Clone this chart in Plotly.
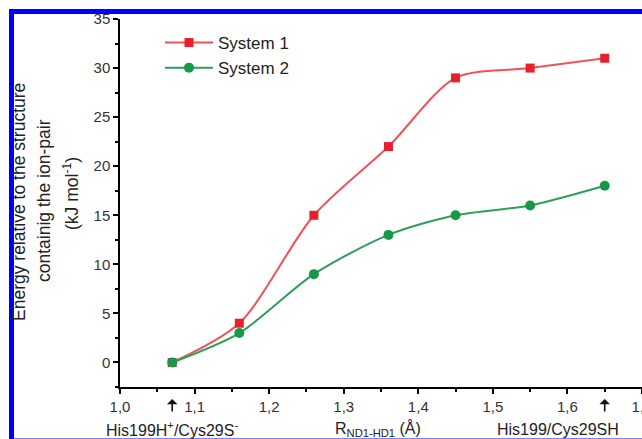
import plotly.graph_objects as go

# Data
r_values = [1.07, 1.16, 1.26, 1.36, 1.45, 1.55, 1.65]
system1 = [0, 4, 15, 22, 29, 30, 31]
system2 = [0, 3, 9, 13, 15, 16, 18]
series_names = ["System 1", "System 2"]
y_title_lines = ["Energy relative to the structure",
                 "containig the ion-pair",
                 "(kJ mol<sup>-1</sup>)"]
bottom_labels = ["His199H<sup>+</sup>/Cys29S<sup>-</sup>",
                 "R<sub>ND1-HD1</sub> (Å)",
                 "His199/Cys29SH"]

W, H = 642, 439
L, R, T, B = 120, 0, 19, 52
pw, ph = W - L - R, H - T - B

def px(x):
    return (x - L) / pw

def py(y):
    return (H - B - y) / ph

FONT = "Liberation Sans, Arial, sans-serif"

fig = go.Figure()
fig.add_trace(go.Scatter(
    x=r_values, y=system1, name=series_names[0], mode="lines+markers",
    line=dict(color="#F0525A", width=2, shape="spline", smoothing=0.8),
    marker=dict(symbol="square", size=9, color="#E8202C"),
))
fig.add_trace(go.Scatter(
    x=r_values, y=system2, name=series_names[1], mode="lines+markers",
    line=dict(color="#2E9E58", width=2, shape="spline", smoothing=0.8),
    marker=dict(symbol="circle", size=10, color="#17994A"),
))

annotations = []
# y-axis title lines
for xc, yc, txt in zip([19, 44, 71], [202, 201, 194], y_title_lines):
    annotations.append(dict(
        x=px(xc), y=py(yc), xref="paper", yref="paper", text=txt,
        showarrow=False, textangle=-90, xanchor="center", yanchor="middle",
        font=dict(family=FONT, size=17.5, color="#222222")))
# bottom labels
for xc, txt in zip([172, 378, 558], bottom_labels):
    annotations.append(dict(
        x=px(xc), y=py(429), xref="paper", yref="paper", text=txt,
        showarrow=False, xanchor="center", yanchor="middle",
        font=dict(family=FONT, size=16, color="#222222")))
# arrows marking the end structures
for xv in [r_values[0], r_values[-1]]:
    annotations.append(dict(
        x=xv, y=py(399), xref="x", yref="paper", text="",
        showarrow=True, ax=0, ay=14, arrowhead=1, arrowsize=1.1,
        arrowwidth=1.6, arrowcolor="#111111"))

fig.update_layout(
    width=W, height=H,
    margin=dict(l=L, r=R, t=T, b=B, pad=0, autoexpand=False),
    paper_bgcolor="white", plot_bgcolor="white",
    separators=", ",
    font=dict(family=FONT, size=15, color="#333333"),
    showlegend=True,
    legend=dict(x=px(160), y=py(25), xanchor="left", yanchor="top",
                bgcolor="rgba(0,0,0,0)", font=dict(family=FONT, size=17, color="#222222"),
                tracegroupgap=0, itemwidth=48),
    annotations=annotations,
    shapes=[dict(type="rect", xref="paper", yref="paper",
                 x0=px(11.5), x1=px(700), y0=py(441), y1=py(11.5),
                 line=dict(color="#0000FF", width=5), layer="above")],
)

fig.update_xaxes(
    range=[1.0, 1.7], tick0=1.0, dtick=0.1, tickformat=".1f", automargin=False,
    showgrid=False, zeroline=False, showline=True, linecolor="black", linewidth=1.5,
    ticks="outside", ticklen=5, tickwidth=1.5, tickcolor="black",
    minor=dict(dtick=0.05, ticks="outside", ticklen=3, tickwidth=1.5, tickcolor="black"),
    tickfont=dict(family=FONT, size=15, color="#333333"),
    ticklabeloverflow="allow",
)
fig.update_yaxes(
    range=[-2.5, 35], tick0=0, dtick=5, automargin=False,
    showgrid=False, zeroline=False, showline=True, linecolor="black", linewidth=1.5,
    ticks="outside", ticklen=5, tickwidth=1.5, tickcolor="black",
    minor=dict(dtick=2.5, ticks="outside", ticklen=3, tickwidth=1.5, tickcolor="black"),
    tickfont=dict(family=FONT, size=15, color="#333333"),
    ticklabeloverflow="allow",
)

fig.write_html("out.html")
